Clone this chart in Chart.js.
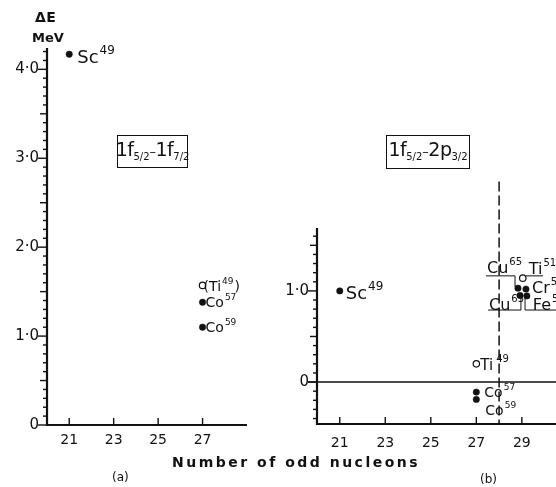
<!DOCTYPE html>
<html>
<head>
<meta charset="utf-8">
<script src="https://cdn.jsdelivr.net/npm/chart.js"></script>
<style>
  body { margin: 0; background: #fff; width: 556px; height: 487px; position: relative; overflow: hidden; font-family: "DejaVu Sans", sans-serif; color: #111; }
  canvas { position: absolute; top: 0; }
  #chartA { left: 0; }
  #chartB { left: 280px; }
  .txt { position: absolute; line-height: 1; white-space: nowrap; }
  .box { position: absolute; border: 1.6px solid #111; box-sizing: border-box; display: flex; align-items: center; justify-content: center; line-height: 1; white-space: nowrap; }
  .box span.in { font-size: 19px; letter-spacing: -0.5px; margin-top: -2px; }
  .box sub { font-size: 10px; vertical-align: -4px; letter-spacing: 0; }
  .box .dash { font-size: 13px; }
</style>
</head>
<body>
<canvas id="chartA" width="280" height="487"></canvas>
<canvas id="chartB" width="276" height="487"></canvas>

<div class="txt" style="left:35px;top:10px;font-size:14px;font-weight:bold;letter-spacing:0.5px">ΔE</div>
<div class="txt" style="left:32px;top:31px;font-size:13px;font-weight:bold">MeV</div>
<div class="box" style="left:117px;top:135px;width:71px;height:33px"><span class="in">1f<sub>5/2</sub><span class="dash">–</span>1f<sub>7/2</sub></span></div>
<div class="box" style="left:386px;top:135px;width:84px;height:34px"><span class="in">1f<sub>5/2</sub><span class="dash">–</span>2p<sub>3/2</sub></span></div>
<div class="txt" style="left:172px;top:455px;font-size:14px;font-weight:bold;letter-spacing:2.5px">Number of odd nucleons</div>
<div class="txt" style="left:112px;top:471px;font-size:12px">(a)</div>
<div class="txt" style="left:480px;top:473px;font-size:12px">(b)</div>

<script>
// panel (a): 1f5/2 - 1f7/2
var namesA = ["Sc", "Ti", "Co", "Co"];
var massA = ["49", "49", "57", "59"];
var nucleonsA = [21, 27, 27, 27];
var energyA = [4.17, 1.57, 1.38, 1.10];
var openA = [false, true, false, false];
var xTicksA = [21, 23, 25, 27];
var yTicksA = [0, 1, 2, 3, 4];
var yLabelsA = ["0", "1·0", "2·0", "3·0", "4·0"];

// panel (b): 1f5/2 - 2p3/2
var namesB = ["Sc", "Ti", "Co", "Co", "Ti", "Cu", "Cr", "Cu", "Fe"];
var massB = ["49", "49", "57", "59", "51", "65", "53", "63", "55"];
var nucleonsB = [21, 27, 27, 27, 29.04, 28.83, 29.18, 28.92, 29.22];
var energyB = [1.0, 0.2, -0.11, -0.19, 1.14, 1.03, 1.02, 0.95, 0.945];
var openB = [false, true, false, false, true, false, false, false, false];
var xTicksB = [21, 23, 25, 27, 29];
var yTicksB = [0, 1];
var yLabelsB = ["0", "1·0"];
var shellLineB = 28;

// label placement: [dx, dy, font size, gap before mass]
var labelPosA = [[8, 9, 18, 1], [1, 6, 14, 1], [3, 5, 14, 1], [3, 5, 14, 1]];
var labelPosB = [[6, 8, 18, 1], [4, 6, 15, 3], [8, 5, 14, 1], [9, 16, 14, 1],
                 [6, -4, 16, 1], [-31, -15, 16, 1], [6, 4, 16, 1], [-31, 15, 16, 1], [6, 14, 16, 1]];
var bracketA = [false, true, false, false];

// leader lines in the Cu/Ti/Cr/Fe group (data units)
var leadersB = [
  [[27.43, 1.165], [28.70, 1.165], [28.70, 1.044]],
  [[27.52, 0.79], [28.96, 0.79], [28.96, 0.92]],
  [[29.14, 0.92], [29.14, 0.79], [30.6, 0.79]],
  [[29.18, 1.165], [29.93, 1.165]]
];

var ink = "#111";

function drawIsotope(ctx, name, mass, x, y, size, gap, paren) {
  ctx.fillStyle = ink;
  ctx.textBaseline = "alphabetic";
  ctx.textAlign = "left";
  ctx.font = size + 'px "DejaVu Sans"';
  var first = (paren ? "(" : "") + name;
  ctx.fillText(first, x, y);
  var w = ctx.measureText(first).width;
  var supSize = Math.round(size * 0.65);
  ctx.font = supSize + 'px "DejaVu Sans"';
  ctx.fillText(mass, x + w + gap, y - size * 0.5);
  var w2 = ctx.measureText(mass).width;
  if (paren) {
    ctx.font = size + 'px "DejaVu Sans"';
    ctx.fillText(")", x + w + gap + w2 + 1, y);
  }
}

function axesPlugin(p) {
  return {
    id: "axes" + p.id,
    beforeDatasetsDraw: function (chart) {
      var ctx = chart.ctx;
      var xs = chart.scales.x, ys = chart.scales.y;
      var a = chart.chartArea;
      ctx.save();
      ctx.strokeStyle = ink;
      ctx.lineCap = "butt";

      // extra lines for panel (b)
      if (p.zeroLine) {
        var y0 = ys.getPixelForValue(0);
        ctx.lineWidth = 1.6;
        ctx.beginPath();
        ctx.moveTo(a.left - 9, y0);
        ctx.lineTo(a.right, y0);
        ctx.stroke();
        var xd = xs.getPixelForValue(shellLineB);
        ctx.lineWidth = 1.5;
        ctx.setLineDash([10, 4]);
        ctx.beginPath();
        ctx.moveTo(xd, ys.getPixelForValue(2.2));
        ctx.lineTo(xd, a.bottom);
        ctx.stroke();
        ctx.setLineDash([]);
        ctx.lineWidth = 1;
        leadersB.forEach(function (line) {
          ctx.beginPath();
          line.forEach(function (pt, i) {
            var px = xs.getPixelForValue(pt[0]), py = ys.getPixelForValue(pt[1]);
            if (i === 0) ctx.moveTo(px, py); else ctx.lineTo(px, py);
          });
          ctx.stroke();
        });
      }

      // axis lines
      ctx.lineWidth = 2.2;
      ctx.beginPath();
      ctx.moveTo(a.left, a.top);
      ctx.lineTo(a.left, a.bottom + 1);
      ctx.moveTo(a.left - 1, a.bottom);
      ctx.lineTo(a.right, a.bottom);
      ctx.stroke();

      // y ticks every 0.1, longer at halves and units
      ctx.lineWidth = 1.4;
      var k0 = Math.ceil(ys.min * 10), k1 = Math.floor(ys.max * 10);
      for (var k = k0; k <= k1; k++) {
        var len = (k % 10 === 0) ? 9 : (k % 5 === 0 ? 7 : 4);
        var py = ys.getPixelForValue(k / 10);
        ctx.beginPath();
        ctx.moveTo(a.left - len, py);
        ctx.lineTo(a.left, py);
        ctx.stroke();
      }
      // x ticks point inwards
      p.xTicks.forEach(function (v) {
        var px = xs.getPixelForValue(v);
        ctx.beginPath();
        ctx.moveTo(px, a.bottom);
        ctx.lineTo(px, a.bottom - 7);
        ctx.stroke();
      });
      ctx.restore();
    },
    afterDatasetsDraw: function (chart) {
      var ctx = chart.ctx;
      var meta = chart.getDatasetMeta(0);
      ctx.save();
      p.names.forEach(function (n, i) {
        var el = meta.data[i];
        var lp = p.labelPos[i];
        drawIsotope(ctx, n, p.mass[i], el.x + lp[0], el.y + lp[1], lp[2], lp[3], p.bracket ? p.bracket[i] : false);
      });
      ctx.restore();
    }
  };
}

function createPanel(elementId, p) {
  var points = p.nucleons.map(function (x, i) { return { x: x, y: p.energy[i] }; });
  return new Chart(document.getElementById(elementId), {
    type: "scatter",
    data: {
      datasets: [
        {
          data: points,
          pointRadius: 3.2,
          pointHoverRadius: 3.2,
          pointBackgroundColor: p.open.map(function (o) { return o ? "#fff" : ink; }),
          pointBorderColor: ink,
          pointBorderWidth: p.open.map(function (o) { return o ? 1.2 : 0.5; }),
        },
      ],
    },
    options: {
      responsive: false,
      animation: false,
      events: [],
      layout: { padding: p.padding, autoPadding: false },
      plugins: { legend: { display: false }, tooltip: { enabled: false } },
      scales: {
        x: {
          type: "linear",
          min: p.xMin,
          max: p.xMax,
          grid: { display: false, drawTicks: false },
          border: { display: false },
          afterFit: function (s) { s.height = p.xHeight; },
          afterBuildTicks: function (s) { s.ticks = p.xTicks.map(function (v) { return { value: v }; }); },
          ticks: {
            autoSkip: false,
            maxRotation: 0,
            padding: p.xPad,
            color: ink,
            font: { family: "DejaVu Sans", size: 14 },
            callback: function (v) { return String(v); },
          },
        },
        y: {
          type: "linear",
          min: p.yMin,
          max: p.yMax,
          grid: { display: false, drawTicks: false },
          border: { display: false },
          afterFit: function (s) { s.width = p.yWidth; },
          afterBuildTicks: function (s) { s.ticks = p.yTicks.map(function (v) { return { value: v }; }); },
          ticks: {
            autoSkip: false,
            padding: 8,
            color: ink,
            font: { family: "DejaVu Sans", size: 15 },
            callback: function (v, idx) { return p.yLabels[idx]; },
          },
        },
      },
    },
    plugins: [axesPlugin(p)],
  });
}

createPanel("chartA", {
  id: "A",
  names: namesA, mass: massA, nucleons: nucleonsA, energy: energyA, open: openA,
  xTicks: xTicksA, yTicks: yTicksA, yLabels: yLabelsA,
  labelPos: labelPosA, bracket: bracketA,
  xMin: 20, xMax: 29, yMin: 0, yMax: 4.24,
  padding: { left: 0, top: 48, right: 33, bottom: 0 },
  yWidth: 47, xHeight: 62, xPad: 7,
  zeroLine: false,
});

createPanel("chartB", {
  id: "B",
  names: namesB, mass: massB, nucleons: nucleonsB, energy: energyB, open: openB,
  xTicks: xTicksB, yTicks: yTicksB, yLabels: yLabelsB,
  labelPos: labelPosB,
  xMin: 20, xMax: 30.5, yMin: -0.46, yMax: 1.69,
  padding: { left: 0, top: 228, right: 0, bottom: 0 },
  yWidth: 37, xHeight: 63, xPad: 11,
  zeroLine: true,
});
</script>
</body>
</html>
